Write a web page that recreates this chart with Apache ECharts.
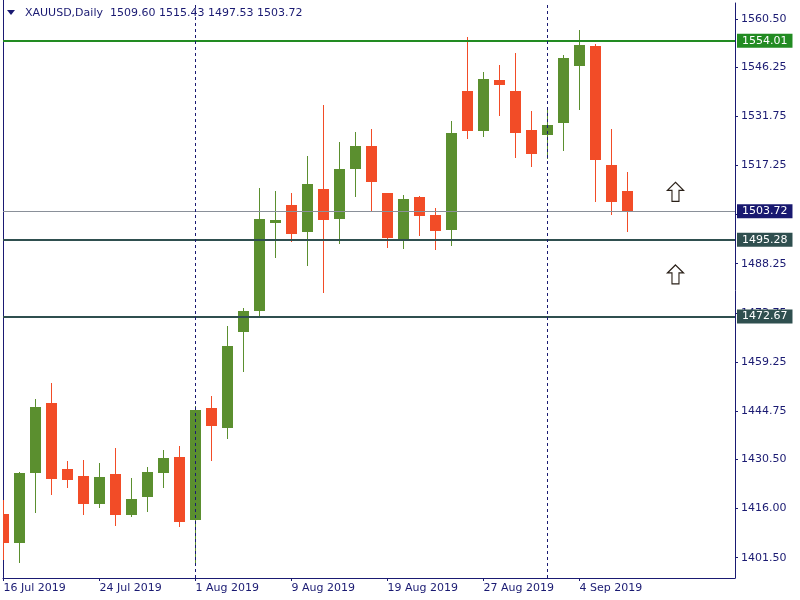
<!DOCTYPE html>
<html><head><meta charset="utf-8">
<script src="https://cdn.jsdelivr.net/npm/echarts@6/dist/echarts.min.js"></script>
<style>html,body{margin:0;padding:0;background:#fff}#c{width:800px;height:600px}</style>
</head><body><div id="c"></div>
<script>
const dates = ['2019-07-16','2019-07-17','2019-07-18','2019-07-19','2019-07-22','2019-07-23','2019-07-24','2019-07-25','2019-07-26','2019-07-29','2019-07-30','2019-07-31','2019-08-01','2019-08-02','2019-08-05','2019-08-06','2019-08-07','2019-08-08','2019-08-09','2019-08-12','2019-08-13','2019-08-14','2019-08-15','2019-08-16','2019-08-19','2019-08-20','2019-08-21','2019-08-22','2019-08-23','2019-08-26','2019-08-27','2019-08-28','2019-08-29','2019-08-30','2019-09-02','2019-09-03','2019-09-04','2019-09-05','2019-09-06','2019-09-09'];
const openP  = [1414.28,1405.81,1426.46,1447.03,1427.55,1425.49,1417.32,1426.08,1414.07,1419.38,1426.46,1431.10,1412.59,1445.55,1439.74,1468.07,1474.26,1500.23,1505.45,1497.58,1510.17,1501.41,1516.17,1522.86,1508.99,1495.51,1507.81,1502.50,1498.17,1539.09,1527.38,1542.34,1539.09,1527.58,1526.20,1529.74,1546.56,1552.37,1517.26,1509.60];
const highP  = [1418.41,1426.76,1448.21,1453.02,1429.92,1430.21,1429.33,1433.75,1424.90,1428.15,1433.16,1434.34,1446.14,1449.18,1469.75,1475.06,1510.47,1509.59,1508.99,1519.91,1534.96,1524.04,1526.99,1527.88,1508.99,1508.40,1508.11,1504.57,1530.24,1555.03,1544.70,1546.76,1550.30,1533.19,1533.78,1549.80,1557.09,1552.96,1527.97,1515.43];
const lowP   = [1400.70,1399.90,1414.66,1419.97,1422.04,1414.07,1416.14,1410.82,1413.48,1414.96,1422.04,1410.53,1399.90,1430.00,1436.50,1456.27,1472.20,1489.90,1494.63,1487.54,1479.58,1494.03,1507.90,1503.68,1492.85,1492.56,1496.40,1492.26,1493.44,1525.02,1525.61,1531.80,1519.41,1516.76,1519.12,1521.48,1533.57,1506.43,1502.59,1497.53];
const closeP = [1405.81,1426.37,1445.85,1424.69,1424.40,1417.32,1425.19,1414.07,1418.70,1426.67,1430.80,1412.00,1444.96,1440.33,1463.85,1474.18,1501.32,1501.12,1496.98,1511.65,1501.12,1516.08,1522.86,1512.33,1495.80,1507.22,1502.30,1497.87,1526.70,1527.38,1542.63,1540.95,1526.79,1520.59,1529.06,1548.83,1552.67,1518.82,1506.43,1503.72];
const dateLabelIndex = [0,6,12,18,24,30,36];
const priceTicks = [1401.50,1416.00,1430.50,1444.75,1459.25,1473.75,1488.25,1502.75,1517.25,1531.75,1546.25,1560.50];
const resistanceLevel = [1554.01];
const supportLevels = [1495.28,1472.67];
const lastPrice = [1503.72];
const monthSeparators = [12,34];
const arrowPoints = [[42,1509.44],[42,1485.09]];
const titleText = 'XAUUSD,Daily  1509.60 1515.43 1497.53 1503.72';

const MON = ['Jan','Feb','Mar','Apr','May','Jun','Jul','Aug','Sep','Oct','Nov','Dec'];
function fmtDate(s){const p=s.split('-');return (+p[2])+' '+MON[+p[1]-1]+' '+p[0];}
const NAVY = '#1a1a72';
const UP = '#5b8f2f', DOWN = '#f24c27';
const FONT = 'DejaVu Sans';

const candleData = dates.map((d,i)=>[i, openP[i], closeP[i], lowP[i], highP[i]]);

const chart = echarts.init(document.getElementById('c'), null, {renderer:'canvas'});
const lvlLabel = (bg)=>({show:true, position:'end', distance:2, formatter:(p)=>p.value.toFixed(2), color:'#fff', backgroundColor:bg, fontFamily:FONT, fontSize:11, lineHeight:13, padding:[1,5,0,5], align:'left'});

chart.setOption({
  animation:false,
  backgroundColor:'#fff',
  title:{text:titleText, left:20, top:3, textStyle:{fontFamily:FONT, fontSize:11, fontWeight:'normal', color:NAVY}},
  graphic:[
    {type:'polygon', shape:{points:[[7,10],[15,10],[11,15]]}, style:{fill:NAVY}},
    {type:'line', shape:{x1:3.5, y1:0, x2:3.5, y2:578}, style:{stroke:NAVY, lineWidth:1}}
  ],
  grid:{left:3, right:65, top:3, bottom:22},
  xAxis:{type:'value', min:-0.03, max:45.72,
    axisLine:{show:true, onZero:false, lineStyle:{color:NAVY, width:1}},
    axisTick:{show:true, customValues:dateLabelIndex, length:3, lineStyle:{color:NAVY}},
    axisLabel:{customValues:dateLabelIndex, formatter:(v)=>fmtDate(dates[Math.round(v)]), align:'left', margin:5, color:NAVY, fontFamily:FONT, fontSize:11},
    splitLine:{show:false}},
  yAxis:{type:'value', position:'right', min:1395.5, max:1565.17,
    axisLine:{show:true, onZero:false, lineStyle:{color:NAVY, width:1}},
    axisTick:{show:true, customValues:priceTicks, length:3, lineStyle:{color:NAVY}},
    axisLabel:{customValues:priceTicks, formatter:(v)=>v.toFixed(2), margin:6, color:NAVY, fontFamily:FONT, fontSize:11},
    splitLine:{show:false}},
  series:[
    {type:'line', data:[], z:1, silent:true,
     markLine:{silent:true, symbol:'none', animation:false,
       data:[
         {yAxis:resistanceLevel[0], lineStyle:{color:'#228b22', width:2, type:'solid'}, label:lvlLabel('#228b22')},
         {yAxis:lastPrice[0], lineStyle:{color:'#8a9099', width:1, type:'solid'}, label:lvlLabel('#191970')},
         {yAxis:supportLevels[0], lineStyle:{color:'#2f4f4f', width:2, type:'solid'}, label:lvlLabel('#2f4f4f')},
         {yAxis:supportLevels[1], lineStyle:{color:'#2f4f4f', width:2, type:'solid'}, label:lvlLabel('#2f4f4f')},
         {xAxis:monthSeparators[0], lineStyle:{color:NAVY, width:1, type:[3,3]}, label:{show:false}},
         {xAxis:monthSeparators[1], lineStyle:{color:NAVY, width:1, type:[3,3]}, label:{show:false}}
       ]}},
    {type:'custom', z:3, data:candleData, encode:{x:0, y:[1,2,3,4]},
     renderItem:(params, api)=>{
       const i=api.value(0), o=api.value(1), c=api.value(2), l=api.value(3), h=api.value(4);
       const pO=api.coord([i,o]), pC=api.coord([i,c]), pL=api.coord([i,l]), pH=api.coord([i,h]);
       const cs=params.coordSys;
       const color = c>=o ? UP : DOWN;
       const w=11;
       let x0=Math.round(pO[0]-w/2), x1=x0+w;
       x0=Math.max(x0, cs.x); x1=Math.min(x1, cs.x+cs.width);
       const yt=Math.round(Math.min(pO[1],pC[1])), yb=Math.round(Math.max(pO[1],pC[1]));
       const xc=Math.round(pO[0])+0.5;
       return {type:'group', children:[
         {type:'line', shape:{x1:xc, y1:Math.round(pH[1]), x2:xc, y2:Math.round(pL[1])}, style:{stroke:color, lineWidth:1}},
         {type:'rect', shape:{x:x0, y:yt, width:x1-x0, height:Math.max(1,yb-yt)}, style:{fill:color}}
       ]};
     }},
    {type:'scatter', z:4, data:arrowPoints, silent:true,
     symbol:'path://M8,0 L16,8 L11.5,8 L11.5,19 L4.5,19 L4.5,8 L0,8 Z', symbolSize:[16,19],
     itemStyle:{color:'#fff', borderColor:'#2a2018', borderWidth:1.2, opacity:1}}
  ]
});
</script></body></html>
